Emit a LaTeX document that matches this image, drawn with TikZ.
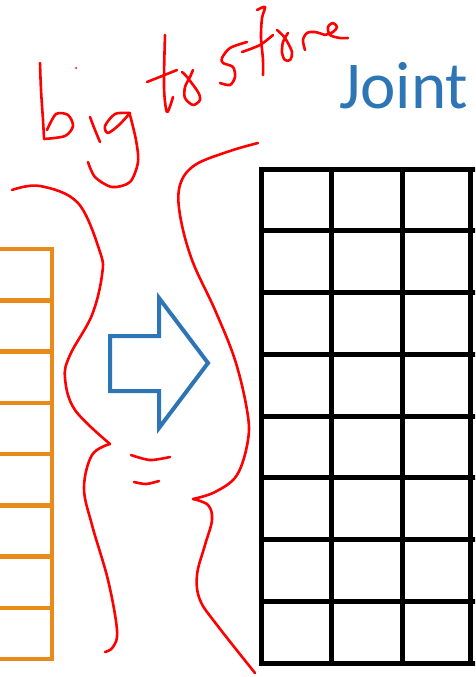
\documentclass[tikz,border=0pt]{standalone}
\usepackage{fontspec}
\usepackage{xcolor}
\usepackage{tikz}
\newfontfamily\titlefont{Carlito}
\definecolor{inkred}{HTML}{FF0000}
\definecolor{jointblue}{HTML}{2E75B6}
\definecolor{margorange}{HTML}{E98A1B}
\tikzset{
  ink/.style={draw=inkred,line width=2.6pt,line cap=round,line join=round},
  tablegrid/.style={draw=black,line width=5pt},
  margbar/.style={draw=margorange,line width=4.5pt},
  bigarrow/.style={draw=jointblue,line width=4pt,line join=miter},
  title/.style={text=jointblue,font=\titlefont\fontsize{67}{67}\selectfont,inner sep=0pt,anchor=base west}
}
\begin{document}
\begin{tikzpicture}[x=1pt,y=-1pt]
\useasboundingbox (0,0) rectangle (475,677);
\clip (0,0) rectangle (475,677);
% title
\node[title] (joint) at (339,108) {Joint};
% marginal table (orange)
\foreach \r in {0,...,8}
  \draw[margbar] (-5,249+51.25*\r) -- (54,249+51.25*\r);
\draw[margbar] (52,247) -- (52,661);
% joint table (black)
\foreach \r in {0,...,8}
  \draw[tablegrid] (258.5,169+61.75*\r) -- (485,169+61.75*\r);
\foreach \c in {261,331,402,470}
  \draw[tablegrid] (\c,166.5) -- (\c,665.5);
% block arrow
\draw[bigarrow] (110,336) -- (159,336) -- (159,298) -- (208,363) -- (159,428) -- (159,391) -- (110,391) -- cycle;
% braces
\draw[ink] plot[smooth,tension=0.6] coordinates {(12,190) (40,186) (78,203) (100,252) (102,275) (92,315) (70,355) (65,378) (75,410) (110,444)};
\draw[ink] plot[smooth,tension=0.6] coordinates {(110,444) (92,455) (84,488) (92,525) (108,580) (117,630) (113,647) (105,652)};
\draw[ink] plot[smooth,tension=0.6] coordinates {(258,143) (230,151) (195,165) (180,185) (180,215) (192,260) (215,310) (235,360) (247,410) (248,440) (237,475) (215,492) (193,499)};
\draw[ink] plot[smooth,tension=0.6] coordinates {(193,499) (208,505) (212,520) (205,545) (197,575) (200,600) (217,625) (255,673)};
\draw[ink] plot[smooth] coordinates {(131,455) (150,460) (170,457)};
\draw[ink] plot[smooth] coordinates {(134,482) (146,484) (159,481)};
% handwriting: big to store
\draw[ink] plot[smooth] coordinates {(40,63) (41,90) (43,120) (44,138)};
\draw[ink] plot[smooth] coordinates {(47,130) (56,114) (68,115) (73,126) (65,136) (44,139)};
\fill[inkred] (76,68) circle (1pt);
\draw[ink] plot[smooth] coordinates {(90,117) (95,130) (100,142)};
\draw[ink] plot[smooth] coordinates {(130,113) (115,114) (105,126) (108,133) (119,125) (130,113)};
\draw[ink] plot[smooth] coordinates {(130,115) (136,140) (138,162) (130,182) (112,187) (95,177) (88,162)};
\draw[ink] plot[smooth] coordinates {(165,35) (164,87) (167,112) (173,97)};
\draw[ink] plot[smooth] coordinates {(147,82) (162,76) (177,70)};
\draw[ink] plot[smooth] coordinates {(182,72) (187,77) (198,92) (200,100) (193,105) (185,98) (185,87) (190,77) (193,70)};
\draw[ink] plot[smooth] coordinates {(247,42) (230,48) (222,58) (223,63) (233,67) (235,77) (230,85) (220,83)};
\draw[ink] plot[smooth] coordinates {(242,52) (260,45) (273,35)};
\draw[ink] plot[smooth] coordinates {(257,10) (265,7) (262,18) (261,37) (263,60) (263,75)};
\draw[ink] plot[smooth] coordinates {(277,30) (285,38) (292,52) (290,60) (285,60) (282,53) (283,42) (288,33)};
\draw[ink] plot[smooth] coordinates {(305,50) (303,40) (307,33) (315,32) (325,35)};
\draw[ink] plot[smooth] coordinates {(325,35) (333,32) (337,27) (333,23) (328,27) (330,35) (340,38) (348,38)};
\end{tikzpicture}
\end{document}
